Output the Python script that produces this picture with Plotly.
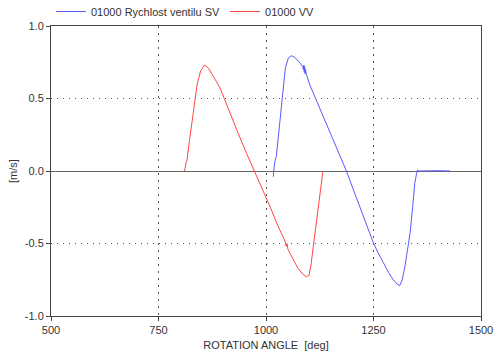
import plotly.graph_objects as go

# Series: 01000 Rychlost ventilu SV (blue)
sv_angle = [1017, 1018, 1020, 1024, 1030, 1035, 1040, 1045, 1052, 1059, 1066, 1072, 1078,
            1085, 1087, 1088, 1089, 1090, 1091, 1092, 1094, 1095, 1101, 1117, 1140, 1164,
            1187, 1202, 1218, 1235, 1249, 1260, 1272, 1285, 1296, 1305, 1311, 1317, 1323,
            1330, 1335, 1341, 1346, 1350, 1352, 1356, 1380, 1400, 1428]
sv_speed = [-0.04, 0.02, 0.06, 0.10, 0.28, 0.44, 0.60, 0.71, 0.78, 0.795, 0.785, 0.77, 0.75,
            0.72, 0.70, 0.73, 0.68, 0.72, 0.67, 0.70, 0.66, 0.66, 0.60, 0.49, 0.33, 0.17,
            0.0, -0.12, -0.245, -0.38, -0.49, -0.56, -0.63, -0.70, -0.75, -0.78, -0.79, -0.75, -0.66,
            -0.54, -0.43, -0.25, -0.085, -0.02, 0.005, 0.0, 0.003, 0.002, 0.0]

# Series: 01000 VV (red)
vv_angle = [810, 812, 814, 816, 822, 826, 832, 840, 848, 857, 866, 876, 892, 903, 920, 938,
            955, 973, 993, 1010, 1025, 1039, 1045, 1047, 1049, 1051, 1063, 1074, 1085, 1094,
            1100, 1105, 1110, 1117, 1122, 1125, 1129, 1132, 1134]
vv_speed = [0.0, 0.02, 0.06, 0.07, 0.21, 0.30, 0.44, 0.60, 0.69, 0.73, 0.71, 0.66, 0.58, 0.50,
            0.37, 0.24, 0.12, 0.0, -0.13, -0.25, -0.36, -0.46, -0.49, -0.52, -0.50, -0.54, -0.61,
            -0.67, -0.71, -0.73, -0.72, -0.64, -0.52, -0.36, -0.23, -0.15, -0.06, -0.01, 0.0]

x_ticks = [500, 750, 1000, 1250, 1500]
y_ticks = [-1.0, -0.5, 0.0, 0.5, 1.0]
y_tick_labels = ["-1.0", "-0.5", "0.0", "0.5", "1.0"]

fig = go.Figure()
fig.add_trace(go.Scatter(x=sv_angle, y=sv_speed, mode="lines",
                         name="01000 Rychlost ventilu SV",
                         line=dict(color="#5a5aff", width=1)))
fig.add_trace(go.Scatter(x=vv_angle, y=vv_speed, mode="lines",
                         name="01000 VV",
                         line=dict(color="#ff4646", width=1)))

font = dict(family="Liberation Sans, Arial, sans-serif", size=11, color="#333")

fig.update_layout(
    width=494, height=361,
    margin=dict(l=51, r=13, t=26, b=45, autoexpand=False),
    paper_bgcolor="white", plot_bgcolor="white",
    font=font,
    showlegend=True,
    legend=dict(orientation="h", x=0, xanchor="left", y=1.0, yanchor="bottom",
                font=dict(size=11, color="#333"), bgcolor="rgba(0,0,0,0)",
                itemwidth=30, tracegroupgap=0, borderwidth=0),
    xaxis=dict(range=[500, 1500], tickvals=x_ticks, ticktext=[str(v) for v in x_ticks],
               showgrid=True, gridcolor="#555", griddash="2px,5px", gridwidth=1,
               zeroline=False, showline=True, linecolor="#444", linewidth=1, mirror=True,
               ticks="outside", ticklen=4, tickcolor="#444", automargin=False,
               title=dict(text="ROTATION ANGLE  [deg]", standoff=6, font=dict(size=11))),
    yaxis=dict(range=[-1.0, 1.0], tickvals=y_ticks, ticktext=y_tick_labels,
               showgrid=True, gridcolor="#555", griddash="1px,5px", gridwidth=1,
               zeroline=True, zerolinecolor="#666", zerolinewidth=1,
               showline=True, linecolor="#444", linewidth=1, mirror=True,
               ticks="outside", ticklen=4, tickcolor="#444", automargin=False,
               title=dict(text="[m/s]", standoff=4, font=dict(size=11))),
)

fig.write_html("out.html",
               config={"displayModeBar": False},
               post_script="document.body.style.margin='0';")
